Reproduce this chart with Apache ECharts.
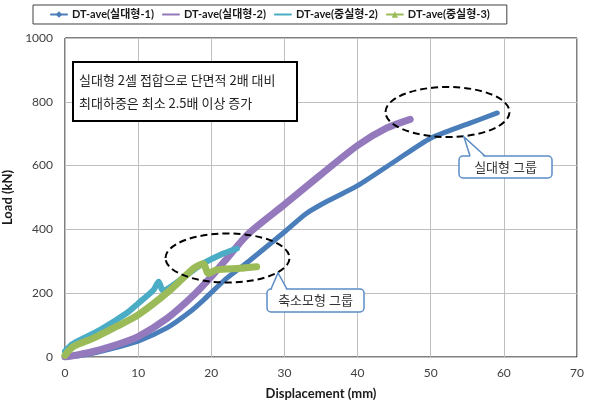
<!DOCTYPE html>
<html><head><meta charset="utf-8">
<script src="https://cdn.jsdelivr.net/npm/echarts@6/dist/echarts.min.js"></script>
<style>html,body{margin:0;padding:0;background:#fff}#c{width:591px;height:413px}</style>
</head><body><div id="c"></div>
<script>
const seriesNames = ['DT-ave(실대형-1)', 'DT-ave(실대형-2)', 'DT-ave(중실형-2)', 'DT-ave(중실형-3)'];
const xTicks = [0, 10, 20, 30, 40, 50, 60, 70];
const yTicks = [0, 200, 400, 600, 800, 1000];

const full1X = [0, 3, 6, 10, 14, 17, 19, 22, 25, 30, 33, 36, 40, 45, 50, 55, 59.1];
const full1Y = [0, 8, 24, 50, 92, 140, 180, 245, 298, 392, 450, 490, 537, 612, 686, 730, 765];

const full2X = [0, 2, 4, 7, 10, 14, 17.5, 20, 22, 25, 30, 35, 40, 44, 47.2];
const full2Y = [0, 8, 18, 38, 64, 122, 192, 252, 305, 385, 478, 572, 663, 718, 745];

const mid2X = [0, 1, 2, 4.8, 8.4, 10, 12.1, 12.8, 13.4, 15.7, 18.5, 21.2, 23.5];
const mid2Y = [18, 40, 53, 85, 137, 168, 210, 236, 208, 241, 288, 320, 340];

const mid3X = [0, 1.1, 3.9, 7, 10, 14.4, 17.6, 18.9, 19.6, 20.7, 23.9, 26.2];
const mid3Y = [5, 32, 59, 95, 132, 210, 278, 292, 262, 273, 278, 283];

const noteLines = ['실대형 2셀 접합으로 단면적 2배 대비', '최대하중은 최소 2.5배 이상 증가'];
const calloutFull = '실대형 그룹';
const calloutSmall = '축소모형 그룹';

function zip(xs, ys) { return xs.map((x, i) => [x, ys[i]]); }

const colors = ['#4a7ebb', '#9479bd', '#4bacc6', '#9bbb59'];
const widths = [5, 7, 6, 7];
const symbols = ['diamond', 'path://M0,0L10,10M10,0L0,10M5,0L5,10', 'path://M0,0L10,10M10,0L0,10', 'triangle'];
const datasets = [zip(full1X, full1Y), zip(full2X, full2Y), zip(mid2X, mid2Y), zip(mid3X, mid3Y)];

const FONT = 'Lato, "Noto Sans CJK KR", sans-serif';
const KFONT = '"Noto Sans CJK KR", sans-serif';

const chart = echarts.init(document.getElementById('c'), null, {renderer: 'canvas'});

const option = {
  animation: false,
  backgroundColor: '#fff',
  grid: {left: 65, right: 14, top: 38, bottom: 56, show: true, borderColor: '#000', borderWidth: 1,
         containLabel: false, outerBoundsMode: 'none'},
  legend: {
    data: seriesNames,
    left: 33, top: 5,
    padding: [4, 17, 4, 17],
    borderColor: '#404040', borderWidth: 1,
    itemWidth: 16, itemHeight: 8, itemGap: 8,
    textStyle: {fontFamily: FONT, fontWeight: 'bold', fontSize: 11, color: '#1a1a1a'}
  },
  xAxis: {
    type: 'value', min: xTicks[0], max: xTicks[xTicks.length - 1], interval: 10,
    name: 'Displacement (mm)', nameLocation: 'middle', nameGap: 30,
    nameTextStyle: {fontFamily: FONT, fontWeight: 'bold', fontSize: 13, color: '#1a1a1a'},
    axisLine: {show: false}, axisTick: {show: false},
    axisLabel: {margin: 10, fontFamily: FONT, fontSize: 12, color: '#404040', formatter: v => String(v)},
    splitLine: {show: true, lineStyle: {color: '#bfbfbf', width: 1}}
  },
  yAxis: {
    type: 'value', min: yTicks[0], max: yTicks[yTicks.length - 1], interval: 200,
    name: 'Load (kN)', nameLocation: 'middle', nameGap: 36,
    nameTextStyle: {fontFamily: FONT, fontWeight: 'bold', fontSize: 13, color: '#1a1a1a'},
    axisLine: {show: false}, axisTick: {show: false},
    axisLabel: {margin: 12, fontFamily: FONT, fontSize: 12, color: '#404040', formatter: v => String(v)},
    splitLine: {show: true, lineStyle: {color: '#bfbfbf', width: 1}}
  },
  series: seriesNames.map((n, i) => ({
    name: n, type: 'line', data: datasets[i],
    symbol: symbols[i], symbolSize: 6, showSymbol: false,
    smooth: 0.25,
    lineStyle: {color: colors[i], width: widths[i], cap: 'round', join: 'round'},
    itemStyle: {color: colors[i], borderColor: colors[i]},
    z: 2 + i
  })),
  graphic: [
    {type: 'rect', shape: {x: 73, y: 62, width: 224, height: 59}, style: {fill: '#fff', stroke: '#000', lineWidth: 2}, z: 10},
    {type: 'text', x: 79, y: 80, style: {text: noteLines[0], font: '13px ' + KFONT, fill: '#222', verticalAlign: 'middle'}, z: 11},
    {type: 'text', x: 79, y: 103, style: {text: noteLines[1], font: '13px ' + KFONT, fill: '#222', verticalAlign: 'middle'}, z: 11},
    {type: 'ellipse', shape: {cx: 227.5, cy: 258, rx: 62, ry: 24.5}, style: {fill: 'none', stroke: '#000', lineWidth: 2, lineDash: [7, 4]}, z: 10},
    {type: 'ellipse', shape: {cx: 447.5, cy: 112, rx: 62, ry: 25}, style: {fill: 'none', stroke: '#000', lineWidth: 2, lineDash: [7, 4]}, z: 10},
    {type: 'rect', shape: {x: 459, y: 156, width: 93, height: 22, r: 4}, style: {fill: '#fff', stroke: '#5b8cc6', lineWidth: 1.5}, z: 10},
    {type: 'polygon', shape: {points: [[470.5, 157.5], [464, 137], [484.5, 157.5]]}, style: {fill: '#fff'}, z: 11},
    {type: 'polyline', shape: {points: [[470, 156], [464, 137], [485, 156]]}, style: {stroke: '#5b8cc6', lineWidth: 1.5, fill: 'none'}, z: 11},
    {type: 'text', x: 505.5, y: 167, style: {text: calloutFull, font: '13px ' + KFONT, fill: '#333', align: 'center', verticalAlign: 'middle'}, z: 12},
    {type: 'rect', shape: {x: 267, y: 289, width: 97, height: 23, r: 4}, style: {fill: '#fff', stroke: '#5b8cc6', lineWidth: 1.5}, z: 10},
    {type: 'polygon', shape: {points: [[271.5, 290.5], [278, 273], [286.5, 290.5]]}, style: {fill: '#fff'}, z: 11},
    {type: 'polyline', shape: {points: [[271, 289], [278, 273], [287, 289]]}, style: {stroke: '#5b8cc6', lineWidth: 1.5, fill: 'none'}, z: 11},
    {type: 'text', x: 315.5, y: 300.5, style: {text: calloutSmall, font: '13px ' + KFONT, fill: '#333', align: 'center', verticalAlign: 'middle'}, z: 12}
  ]
};
chart.setOption(option);
</script>
</body></html>
